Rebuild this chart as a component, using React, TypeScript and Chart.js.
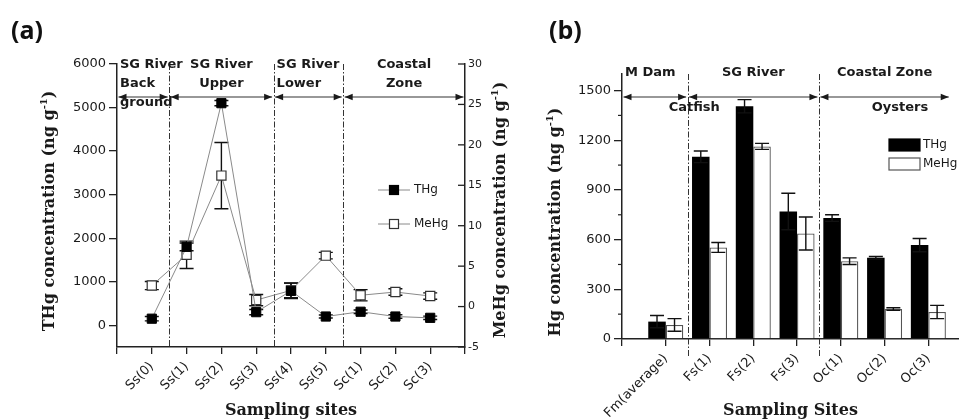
import React, { useEffect, useRef } from 'react';
import { Chart, registerables } from 'chart.js';

Chart.register(...registerables);

// ---------- Panel (a) data ----------
const SITES_A = ['Ss(0)', 'Ss(1)', 'Ss(2)', 'Ss(3)', 'Ss(4)', 'Ss(5)', 'Sc(1)', 'Sc(2)', 'Sc(3)'];
const THG_A = [150, 1800, 5100, 300, 790, 200, 310, 200, 170];
const THG_A_ERR = [50, 90, 60, 60, 180, 35, 40, 40, 40];
const MEHG_A = [2.6, 6.4, 16.2, 0.8, 2.0, 6.3, 1.4, 1.8, 1.3];
const MEHG_A_ERR = [0.5, 1.7, 4.1, 0.7, 0.9, 0.4, 0.7, 0.4, 0.4];
const THG_TICKS = [0, 1000, 2000, 3000, 4000, 5000, 6000];
const MEHG_TICKS = [-5, 0, 5, 10, 15, 20, 25, 30];
const X_TICKS_A = [-1, 0, 1, 2, 3, 4, 5, 6, 7, 8, 9];
const REGIONS_A = [
  { from: -1, to: 0.5, lines: ['SG River', 'Back', 'ground'], align: 'left' },
  { from: 0.5, to: 3.5, lines: ['SG River', 'Upper'], align: 'center' },
  { from: 3.5, to: 5.5, lines: ['SG River', 'Lower'], align: 'left' },
  { from: 5.5, to: 9, lines: ['Coastal', 'Zone'], align: 'center' },
];

// ---------- Panel (b) data ----------
const SITES_B = ['Fm(average)', 'Fs(1)', 'Fs(2)', 'Fs(3)', 'Oc(1)', 'Oc(2)', 'Oc(3)'];
const THG_B = [105, 1100, 1405, 770, 730, 490, 567];
const THG_B_ERR = [37, 35, 40, 110, 20, 8, 40];
const MEHG_B = [85, 553, 1163, 637, 470, 181, 163];
const MEHG_B_ERR = [38, 30, 18, 100, 20, 8, 40];
const HG_TICKS = [0, 300, 600, 900, 1200, 1500];
const HG_MINOR = [150, 450, 750, 1050, 1350];
const X_TICKS_B = [-1, 0, 1, 2, 3, 4, 5, 6];
const REGIONS_B = [
  { from: -1, to: 0.5, lines: ['M Dam'], align: 'left' },
  { from: 0.5, to: 3.5, lines: ['SG River'], align: 'center' },
  { from: 3.5, to: 6.5, lines: ['Coastal Zone'], align: 'center' },
];
const SUBLABELS_B = [
  { x: 0.65, text: 'Catfish' },
  { x: 5.35, text: 'Oysters' },
];

const SANS = '"DejaVu Sans", sans-serif';
const SERIF = '"DejaVu Serif", serif';
const INK = '#1a1a1a';
const plain = (v: any) => String(v);

function drawRotatedTitle(ctx: CanvasRenderingContext2D, baseX: number, cy: number, main: string, sup: string, tail: string, px: number) {
  ctx.save();
  const f = `bold ${px}px ${SERIF}`;
  const fs = `bold ${Math.round(px * 0.62)}px ${SERIF}`;
  ctx.font = f;
  const w1 = ctx.measureText(main).width;
  const w3 = ctx.measureText(tail).width;
  ctx.font = fs;
  const w2 = ctx.measureText(sup).width;
  ctx.translate(baseX, cy);
  ctx.rotate(-Math.PI / 2);
  ctx.fillStyle = INK;
  ctx.textAlign = 'left';
  ctx.textBaseline = 'alphabetic';
  let x = -(w1 + w2 + w3) / 2;
  ctx.font = f;
  ctx.fillText(main, x, 0);
  x += w1;
  ctx.font = fs;
  ctx.fillText(sup, x, -px * 0.45);
  x += w2;
  ctx.font = f;
  ctx.fillText(tail, x, 0);
  ctx.restore();
}

function arrowHead(ctx: CanvasRenderingContext2D, tipX: number, y: number, dir: number) {
  ctx.beginPath();
  ctx.moveTo(tipX, y);
  ctx.lineTo(tipX + dir * 8, y - 3.2);
  ctx.lineTo(tipX + dir * 8, y + 3.2);
  ctx.closePath();
  ctx.fill();
}

function errorBarPlugin(specs: { datasetIndex: number; errors: number[]; cap: number; when: string }[]) {
  const draw = (chart: any, phase: string) => {
    const ctx = chart.ctx;
    specs.filter((s) => s.when === phase).forEach((s) => {
      const meta = chart.getDatasetMeta(s.datasetIndex);
      const ds = chart.data.datasets[s.datasetIndex];
      const yScale = chart.scales[meta.yAxisID];
      meta.data.forEach((el: any, i: number) => {
        const v = ds.data[i].y;
        const e = s.errors[i];
        const x = el.x;
        const yt = yScale.getPixelForValue(v + e);
        const yb = yScale.getPixelForValue(v - e);
        ctx.save();
        ctx.strokeStyle = '#111';
        ctx.lineWidth = 1.4;
        ctx.beginPath();
        ctx.moveTo(x, yt);
        ctx.lineTo(x, yb);
        ctx.moveTo(x - s.cap, yt);
        ctx.lineTo(x + s.cap, yt);
        ctx.moveTo(x - s.cap, yb);
        ctx.lineTo(x + s.cap, yb);
        ctx.stroke();
        ctx.restore();
      });
    });
  };
  return {
    id: 'errbars',
    beforeDatasetsDraw: (c: any) => draw(c, 'before'),
    afterDatasetsDraw: (c: any) => draw(c, 'after'),
  };
}

function regionPlugin(cfg: {
  regions: { from: number; to: number; lines: string[]; align: string }[];
  subLabels?: { x: number; text: string }[];
  textY: number;
  lineGap: number;
  arrowY: number;
  subY?: number;
  dividerExtend: number;
}) {
  return {
    id: 'regions',
    beforeDatasetsDraw(chart: any) {
      const { ctx, chartArea } = chart;
      const xs = chart.scales.x;
      ctx.save();
      ctx.strokeStyle = '#333';
      ctx.lineWidth = 1;
      ctx.setLineDash([6, 2, 1.5, 2]);
      cfg.regions.slice(1).forEach((r) => {
        const px = Math.round(xs.getPixelForValue(r.from)) + 0.5;
        ctx.beginPath();
        ctx.moveTo(px, chartArea.top);
        ctx.lineTo(px, chartArea.bottom + cfg.dividerExtend);
        ctx.stroke();
      });
      ctx.restore();
    },
    afterDatasetsDraw(chart: any) {
      const { ctx, chartArea } = chart;
      const xs = chart.scales.x;
      ctx.save();
      ctx.fillStyle = INK;
      ctx.strokeStyle = '#333';
      ctx.lineWidth = 1.2;
      const ay = chartArea.top + cfg.arrowY;
      cfg.regions.forEach((r) => {
        const x1 = xs.getPixelForValue(r.from) + 1.5;
        const x2 = xs.getPixelForValue(r.to) - 1.5;
        ctx.beginPath();
        ctx.moveTo(x1, ay);
        ctx.lineTo(x2, ay);
        ctx.stroke();
        arrowHead(ctx, x1, ay, 1);
        arrowHead(ctx, x2, ay, -1);
        ctx.font = `bold 13px ${SANS}`;
        ctx.textBaseline = 'middle';
        let tx: number;
        if (r.align === 'left') {
          ctx.textAlign = 'left';
          tx = xs.getPixelForValue(r.from) + 3;
        } else {
          ctx.textAlign = 'center';
          tx = (xs.getPixelForValue(r.from) + xs.getPixelForValue(r.to)) / 2;
        }
        r.lines.forEach((t, i) => {
          ctx.fillText(t, tx, chartArea.top + cfg.textY + i * cfg.lineGap);
        });
      });
      (cfg.subLabels || []).forEach((s) => {
        ctx.font = `bold 13px ${SANS}`;
        ctx.textAlign = 'center';
        ctx.textBaseline = 'middle';
        ctx.fillText(s.text, xs.getPixelForValue(s.x), chartArea.top + (cfg.subY || 0));
      });
      ctx.restore();
    },
  };
}

function ChartA() {
  const ref = useRef<HTMLCanvasElement>(null);
  useEffect(() => {
    if (!ref.current) return;
    const chart = new Chart(ref.current, {
      type: 'line',
      data: {
        datasets: [
          {
            label: 'THg',
            data: THG_A.map((v, i) => ({ x: i, y: v })),
            yAxisID: 'y',
            borderColor: '#8a8a8a',
            borderWidth: 1,
            pointStyle: 'rect',
            pointRadius: 6.5,
            pointBackgroundColor: '#000',
            pointBorderColor: '#000',
            pointBorderWidth: 1,
          },
          {
            label: 'MeHg',
            data: MEHG_A.map((v, i) => ({ x: i, y: v })),
            yAxisID: 'y2',
            borderColor: '#8a8a8a',
            borderWidth: 1,
            pointStyle: 'rect',
            pointRadius: 6.5,
            pointBackgroundColor: '#fff',
            pointBorderColor: '#333',
            pointBorderWidth: 1.2,
          },
        ],
      } as any,
      options: {
        responsive: false,
        maintainAspectRatio: false,
        animation: false,
        layout: { padding: { top: 64, left: 0, right: 0, bottom: 0 } },
        plugins: { legend: { display: false }, tooltip: { enabled: false } },
        scales: {
          x: {
            type: 'linear',
            position: 'bottom',
            min: -1,
            max: 9,
            afterBuildTicks: (s: any) => { s.ticks = X_TICKS_A.map((v) => ({ value: v })); },
            afterFit: (s: any) => { s.height = 73; },
            grid: { drawOnChartArea: false, drawTicks: true, tickLength: 7, color: '#222', lineWidth: 1.3 },
            border: { color: '#222', width: 1.5 },
            ticks: {
              autoSkip: false,
              maxRotation: 45,
              minRotation: 45,
              padding: 5,
              color: INK,
              font: { family: SANS, size: 13 },
              callback: (v: any) => (Number.isInteger(v) && SITES_A[v] !== undefined ? SITES_A[v] : ''),
            },
            title: { display: true, text: 'Sampling sites', color: INK, font: { family: SERIF, size: 16, weight: 'bold' }, padding: { top: 0, bottom: 0 } },
          },
          y: {
            type: 'linear',
            position: 'left',
            min: -500,
            max: 6000,
            afterBuildTicks: (s: any) => { s.ticks = THG_TICKS.map((v) => ({ value: v })); },
            afterFit: (s: any) => { s.width = 117; },
            grid: { drawOnChartArea: false, drawTicks: true, tickLength: 8, color: '#222', lineWidth: 1.3 },
            border: { color: '#222', width: 1.5 },
            ticks: { padding: 3, color: INK, font: { family: SANS, size: 13 }, callback: plain },
          },
          y2: {
            type: 'linear',
            position: 'right',
            min: -5,
            max: 30,
            afterBuildTicks: (s: any) => { s.ticks = MEHG_TICKS.map((v) => ({ value: v })); },
            afterFit: (s: any) => { s.width = 55; },
            grid: { drawOnChartArea: false, drawTicks: false },
            border: { color: '#222', width: 1.5 },
            ticks: { padding: 3, color: INK, font: { family: SANS, size: 11 }, callback: plain },
          },
        },
      } as any,
      plugins: [
        errorBarPlugin([
          { datasetIndex: 0, errors: THG_A_ERR, cap: 7, when: 'before' },
          { datasetIndex: 1, errors: MEHG_A_ERR, cap: 7, when: 'before' },
        ]),
        regionPlugin({ regions: REGIONS_A, textY: 1, lineGap: 19, arrowY: 33, dividerExtend: 0 }),
        {
          id: 'extrasA',
          afterDraw(chart: any) {
            const { ctx, chartArea } = chart;
            const y2 = chart.scales.y2;
            ctx.save();
            ctx.strokeStyle = '#222';
            ctx.lineWidth = 1.3;
            MEHG_TICKS.forEach((v) => {
              const py = y2.getPixelForValue(v);
              ctx.beginPath();
              ctx.moveTo(chartArea.right - 7, py);
              ctx.lineTo(chartArea.right, py);
              ctx.stroke();
            });
            // legend
            const lx = chartArea.right - 87;
            const items = [
              { label: 'THg', fill: '#000', stroke: '#000', dy: 126 },
              { label: 'MeHg', fill: '#fff', stroke: '#333', dy: 160 },
            ];
            items.forEach((it) => {
              const ly = chartArea.top + it.dy;
              ctx.strokeStyle = '#8a8a8a';
              ctx.lineWidth = 1;
              ctx.beginPath();
              ctx.moveTo(lx, ly);
              ctx.lineTo(lx + 32, ly);
              ctx.stroke();
              ctx.fillStyle = it.fill;
              ctx.strokeStyle = it.stroke;
              ctx.lineWidth = 1.2;
              ctx.fillRect(lx + 11.5, ly - 4.5, 9, 9);
              ctx.strokeRect(lx + 11.5, ly - 4.5, 9, 9);
              ctx.fillStyle = INK;
              ctx.font = `12px ${SANS}`;
              ctx.textAlign = 'left';
              ctx.textBaseline = 'middle';
              ctx.fillText(it.label, lx + 36, ly);
            });
            ctx.restore();
            drawRotatedTitle(ctx, 54, 211, 'THg concentration (ng g', '-1', ')', 16);
            drawRotatedTitle(ctx, 505, 210, 'MeHg concentration (ng g', '-1', ')', 16);
          },
        },
      ],
    });
    return () => chart.destroy();
  }, []);
  return <canvas ref={ref} width={520} height={420} style={{ position: 'absolute', left: 0, top: 0, width: 520, height: 420 }} />;
}

function ChartB() {
  const ref = useRef<HTMLCanvasElement>(null);
  useEffect(() => {
    if (!ref.current) return;
    const chart = new Chart(ref.current, {
      type: 'bar',
      data: {
        datasets: [
          {
            label: 'THg',
            data: THG_B.map((v, i) => ({ x: i, y: v })),
            backgroundColor: '#000',
            borderColor: '#000',
            borderWidth: 0,
            categoryPercentage: 0.8,
            barPercentage: 1,
          },
          {
            label: 'MeHg',
            data: MEHG_B.map((v, i) => ({ x: i, y: v })),
            backgroundColor: '#fff',
            borderColor: '#555',
            borderWidth: 1.3,
            categoryPercentage: 0.8,
            barPercentage: 1,
          },
        ],
      } as any,
      options: {
        responsive: false,
        maintainAspectRatio: false,
        animation: false,
        layout: { padding: { top: 74, left: 0, right: 31, bottom: 0 } },
        plugins: { legend: { display: false }, tooltip: { enabled: false } },
        scales: {
          x: {
            type: 'linear',
            position: 'bottom',
            min: -1,
            max: 6.7,
            offset: false,
            afterBuildTicks: (s: any) => { s.ticks = X_TICKS_B.map((v) => ({ value: v })); },
            afterFit: (s: any) => { s.height = 81; },
            grid: { offset: false, drawOnChartArea: false, drawTicks: true, tickLength: 7, color: '#222', lineWidth: 1.3 },
            border: { color: '#222', width: 1.5 },
            ticks: {
              autoSkip: false,
              maxRotation: 45,
              minRotation: 45,
              padding: 5,
              color: INK,
              font: { family: SANS, size: 13 },
              callback: (v: any) => (Number.isInteger(v) && SITES_B[v] !== undefined ? SITES_B[v] : ''),
            },
            title: { display: true, text: 'Sampling Sites', color: INK, font: { family: SERIF, size: 16, weight: 'bold' }, padding: { top: 0, bottom: 0 } },
          },
          y: {
            type: 'linear',
            position: 'left',
            min: 0,
            max: 1600,
            afterBuildTicks: (s: any) => { s.ticks = HG_TICKS.map((v) => ({ value: v })); },
            afterFit: (s: any) => { s.width = 102; },
            grid: { drawOnChartArea: false, drawTicks: true, tickLength: 8, color: '#222', lineWidth: 1.3 },
            border: { color: '#222', width: 1.5 },
            ticks: { padding: 3, color: INK, font: { family: SANS, size: 13 }, callback: plain },
          },
        },
      } as any,
      plugins: [
        regionPlugin({ regions: REGIONS_B, subLabels: SUBLABELS_B, textY: -1.5, lineGap: 19, arrowY: 23, subY: 34, dividerExtend: 17 }),
        errorBarPlugin([
          { datasetIndex: 0, errors: THG_B_ERR, cap: 7, when: 'after' },
          { datasetIndex: 1, errors: MEHG_B_ERR, cap: 7, when: 'after' },
        ]),
        {
          id: 'extrasB',
          afterDraw(chart: any) {
            const { ctx, chartArea } = chart;
            const ys = chart.scales.y;
            ctx.save();
            ctx.strokeStyle = '#222';
            ctx.lineWidth = 1.2;
            HG_MINOR.forEach((v) => {
              const py = ys.getPixelForValue(v);
              ctx.beginPath();
              ctx.moveTo(chartArea.left - 4, py);
              ctx.lineTo(chartArea.left, py);
              ctx.stroke();
            });
            const lx = chartArea.left + 267;
            chart.data.datasets.forEach((ds: any, i: number) => {
              const top = chartArea.top + 65 + i * 19;
              ctx.fillStyle = ds.backgroundColor;
              ctx.strokeStyle = i === 0 ? '#000' : '#555';
              ctx.lineWidth = 1.2;
              ctx.fillRect(lx, top, 31, 12);
              ctx.strokeRect(lx, top, 31, 12);
              ctx.fillStyle = INK;
              ctx.font = `12px ${SANS}`;
              ctx.textAlign = 'left';
              ctx.textBaseline = 'middle';
              ctx.fillText(ds.label, lx + 34, top + 6);
            });
            ctx.restore();
            drawRotatedTitle(ctx, 40, 222, 'Hg concentration (ng g', '-1', ')', 16);
          },
        },
      ],
    });
    return () => chart.destroy();
  }, []);
  return <canvas ref={ref} width={470} height={420} style={{ position: 'absolute', left: 520, top: 0, width: 470, height: 420 }} />;
}

export default function App() {
  const label = { position: 'absolute' as const, top: 17, fontFamily: '"Open Sans", sans-serif', fontWeight: 700, fontSize: 25, lineHeight: '25px', color: '#111' };
  return (
    <div style={{ position: 'fixed', left: 0, top: 0, width: 959, height: 420, overflow: 'hidden', background: '#fff' }}>
      <ChartA />
      <ChartB />
      <div style={{ ...label, left: 11 }}>(a)</div>
      <div style={{ ...label, left: 549 }}>(b)</div>
    </div>
  );
}
